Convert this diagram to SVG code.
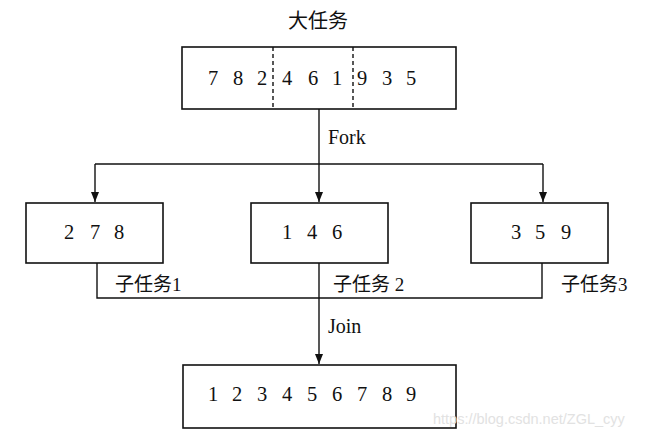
<svg xmlns="http://www.w3.org/2000/svg" width="651" height="435" viewBox="0 0 651 435">
<style>
.box{fill:#fff;stroke:#111;stroke-width:1.6}
.ln{fill:none;stroke:#111;stroke-width:1.4}
.dash{stroke:#111;stroke-width:1.4;stroke-dasharray:4 3}
.num{font-family:"Liberation Serif",serif;font-size:20.5px;fill:#111;text-anchor:middle}
.lbl{font-family:"Liberation Serif",serif;font-size:20px;fill:#111}
.cjk{font-family:"Liberation Serif","Noto Sans CJK SC",serif;font-size:19px;fill:#111}
</style>
<defs>
<marker id="ah" markerWidth="10" markerHeight="8" refX="10" refY="4" orient="auto" markerUnits="userSpaceOnUse">
<path d="M0,0 L10,4 L0,8 Z" fill="#111"/>
</marker>
</defs>
<rect width="651" height="435" fill="#fff"/>
<g id="connectors">
<path class="ln" d="M319,109 V164"/>
<path class="ln" d="M95,164 H543"/>
<path class="ln" d="M95,164 V202" marker-end="url(#ah)"/>
<path class="ln" d="M319,164 V202" marker-end="url(#ah)"/>
<path class="ln" d="M543,164 V202" marker-end="url(#ah)"/>
<path class="ln" d="M97,263 V298 H542 V263"/>
<path class="ln" d="M319,263 V364" marker-end="url(#ah)"/>
<text class="lbl" x="328" y="144">Fork</text>
<text class="lbl" x="328" y="333">Join</text>
</g>
<g id="big-task">
<text class="cjk" x="318" y="28" text-anchor="middle" style="font-size:20px">大任务</text>
<rect class="box" x="182" y="47" width="274" height="62"/>
<line class="dash" x1="273" y1="47" x2="273" y2="109"/>
<line class="dash" x1="353" y1="47" x2="353" y2="109"/>
<text class="num" y="85"><tspan x="213">7</tspan><tspan x="238">8</tspan><tspan x="262">2</tspan><tspan x="287">4</tspan><tspan x="313">6</tspan><tspan x="337">1</tspan><tspan x="362">9</tspan><tspan x="387">3</tspan><tspan x="411">5</tspan></text>
</g>
<g id="sub1">
<rect class="box" x="26" y="203" width="137" height="60"/>
<text class="num" y="239"><tspan x="69">2</tspan><tspan x="95">7</tspan><tspan x="119">8</tspan></text>
<text class="cjk" x="115" y="291">子任务1</text>
</g>
<g id="sub2">
<rect class="box" x="251" y="203" width="137" height="60"/>
<text class="num" y="239"><tspan x="287">1</tspan><tspan x="312">4</tspan><tspan x="337">6</tspan></text>
<text class="cjk" x="333" y="291">子任务 2</text>
</g>
<g id="sub3">
<rect class="box" x="471" y="203" width="137" height="60"/>
<text class="num" y="239"><tspan x="516">3</tspan><tspan x="540">5</tspan><tspan x="566">9</tspan></text>
<text class="cjk" x="561" y="291">子任务3</text>
</g>
<g id="result">
<rect class="box" x="183" y="365" width="273" height="63"/>
<text class="num" y="401"><tspan x="213">1</tspan><tspan x="237">2</tspan><tspan x="262">3</tspan><tspan x="287">4</tspan><tspan x="312">5</tspan><tspan x="337">6</tspan><tspan x="362">7</tspan><tspan x="387">8</tspan><tspan x="411">9</tspan></text>
</g>
<text x="433" y="424" style="font-family:'Liberation Sans',sans-serif;font-size:14.5px;fill:#e2e2e2">https://blog.csdn.net/ZGL_cyy</text>
</svg>
